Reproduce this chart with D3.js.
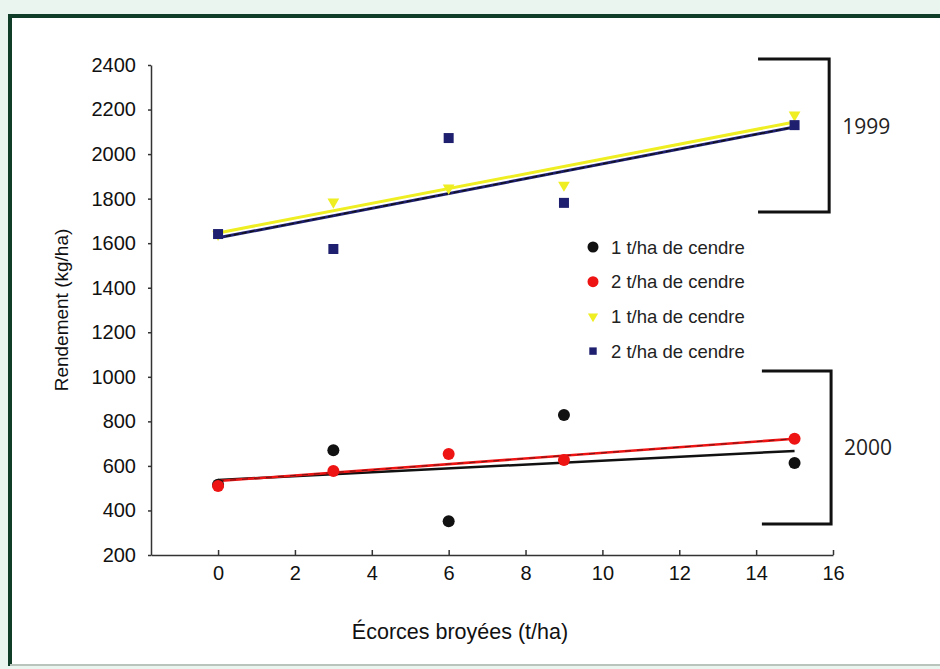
<!DOCTYPE html>
<html>
<head>
<meta charset="utf-8">
<script src="https://cdn.jsdelivr.net/npm/d3@7"></script>
<style>
    body { margin: 0; background: #e9f5ee; }
    svg { display: block; }
</style>
</head>
<body>
<svg id="vis"></svg>
<script>
const WIDTH = 940;
const HEIGHT = 669;

const NAVY = '#1e1f6e';
const YELLOW = '#eeee22';
const RED = '#ee1414';
const BLACK = '#111111';

// x values shared by all series (t/ha of crushed bark)
const doses = [0, 3, 6, 9, 15];

// 2000 series
const black_2000 = [515, 670, 352, 829, 613];
const red_2000 = [510, 577, 653, 627, 722];
// 1999 series
const yellow_1999 = [1640, 1785, 1848, 1861, 2176];
const navy_1999 = [1641, 1574, 2072, 1781, 2130];

// trend lines, [start at 0, end at 15]
const trend_black = [537, 667];
const trend_red = [532, 722];
const trend_yellow = [1646, 2144];
const trend_navy = [1624, 2122];

const x_ticks = [0, 2, 4, 6, 8, 10, 12, 14, 16];
const y_ticks = [200, 400, 600, 800, 1000, 1200, 1400, 1600, 1800, 2000, 2200, 2400];

const legend_labels = ['1 t/ha de cendre', '2 t/ha de cendre', '1 t/ha de cendre', '2 t/ha de cendre'];

// year brackets: [x start, x end, y top, y bottom] in data units
const bracket_1999 = [14.05, 15.9, 2427, 1740];
const bracket_2000 = [14.15, 15.95, 1026, 339];

var svg = d3.select('#vis').attr('width', WIDTH).attr('height', HEIGHT);

// frame
svg.append('rect').attr('x', 10).attr('y', 17).attr('width', 960).attr('height', 647).attr('fill', 'white');
svg.append('line').attr('x1', 10).attr('y1', 16).attr('x2', 940).attr('y2', 16)
    .attr('stroke', '#0f3d28').attr('stroke-width', 4);
svg.append('line').attr('x1', 10).attr('y1', 14).attr('x2', 10).attr('y2', 666)
    .attr('stroke', '#0f3d28').attr('stroke-width', 4);
svg.append('line').attr('x1', 10).attr('y1', 665).attr('x2', 940).attr('y2', 665)
    .attr('stroke', '#b9c4bd').attr('stroke-width', 2);

var x = d3.scaleLinear().domain([-1.745, 16]).range([151, 833]);
var y = d3.scaleLinear().domain([200, 2400]).range([555, 65]);

var font = "'Liberation Sans', Arial, sans-serif";

function styleAxis(g) {
    g.attr('font-size', null).attr('font-family', null);
    g.selectAll('path, line').attr('stroke', '#333').attr('stroke-width', 1.5);
    g.selectAll('text').attr('fill', '#111').attr('font-family', font).attr('font-size', 20);
}

var yAxis = svg.append('g').attr('transform', 'translate(151,0)')
    .call(d3.axisLeft(y).tickValues(y_ticks).tickFormat(d3.format('d'))
        .tickSizeInner(3).tickSizeOuter(0).tickPadding(12));
styleAxis(yAxis);

var xAxis = svg.append('g').attr('transform', 'translate(0,555)')
    .call(d3.axisBottom(x).tickValues(x_ticks).tickFormat(d3.format('d'))
        .tickSizeInner(-5).tickSizeOuter(0).tickPadding(11));
styleAxis(xAxis);

// axis titles
svg.append('text').attr('transform', 'translate(68,310) rotate(-90)')
    .attr('text-anchor', 'middle').attr('font-family', font).attr('font-size', 19)
    .attr('fill', '#111').text('Rendement (kg/ha)');
svg.append('text').attr('x', 460).attr('y', 639)
    .attr('text-anchor', 'middle').attr('font-family', font).attr('font-size', 21.5)
    .attr('fill', '#111').text('Écorces broyées (t/ha)');

function trend(vals, colour, width, dash) {
    var l = svg.append('line')
        .attr('x1', x(doses[0])).attr('y1', y(vals[0]))
        .attr('x2', x(doses[doses.length - 1])).attr('y2', y(vals[1]))
        .attr('stroke', colour).attr('stroke-width', width);
    if (dash) { l.attr('stroke-dasharray', dash); }
}

trend(trend_yellow, YELLOW, 3);
trend(trend_navy, NAVY, 3);
trend(trend_navy, BLACK, 1.2, '5,3');
trend(trend_black, BLACK, 2.5);
trend(trend_red, RED, 2.5);
trend(trend_red, '#551111', 0.8, '6,6');

var tri = d3.symbol().type(d3.symbolTriangle).size(60);
var sq = d3.symbol().type(d3.symbolSquare).size(100);

function drawPoints(vals, kind, colour) {
    var g = svg.append('g');
    vals.forEach(function (v, i) {
        if (kind == 'circle') {
            g.append('circle').attr('cx', x(doses[i])).attr('cy', y(v)).attr('r', 6).attr('fill', colour);
        } else if (kind == 'triangle') {
            g.append('path').attr('d', tri)
                .attr('transform', 'translate(' + x(doses[i]) + ',' + y(v) + ') rotate(180)').attr('fill', colour);
        } else {
            g.append('path').attr('d', sq)
                .attr('transform', 'translate(' + x(doses[i]) + ',' + y(v) + ')').attr('fill', colour);
        }
    });
}

drawPoints(black_2000, 'circle', BLACK);
drawPoints(red_2000, 'circle', RED);
drawPoints(yellow_1999, 'triangle', YELLOW);
drawPoints(navy_1999, 'square', NAVY);

// legend
var legend_kinds = [['circle', BLACK], ['circle', RED], ['triangle', YELLOW], ['square', NAVY]];
legend_labels.forEach(function (label, i) {
    var ly = 247 + i * 34.7;
    var kind = legend_kinds[i][0];
    var colour = legend_kinds[i][1];
    if (kind == 'circle') {
        svg.append('circle').attr('cx', 593).attr('cy', ly).attr('r', 5.5).attr('fill', colour);
    } else if (kind == 'triangle') {
        svg.append('path').attr('d', d3.symbol().type(d3.symbolTriangle).size(45))
            .attr('transform', 'translate(593,' + ly + ') rotate(180)').attr('fill', colour);
    } else {
        svg.append('path').attr('d', d3.symbol().type(d3.symbolSquare).size(55))
            .attr('transform', 'translate(593,' + ly + ')').attr('fill', colour);
    }
    svg.append('text').attr('x', 611).attr('y', ly + 6.5)
        .attr('font-family', font).attr('font-size', 18.5).attr('fill', '#222').text(label);
});

// year brackets
function bracket(b, label, dy) {
    var pts = [[b[0], b[2]], [b[1], b[2]], [b[1], b[3]], [b[0], b[3]]];
    svg.append('path')
        .attr('d', d3.line().x(function (d) { return x(d[0]); }).y(function (d) { return y(d[1]); })(pts))
        .attr('fill', 'none').attr('stroke', '#111').attr('stroke-width', 3);
    svg.append('text').attr('x', x(b[1]) + 13).attr('y', (y(b[2]) + y(b[3])) / 2 + dy)
        .attr('font-family', "'Open Sans', 'Noto Sans', sans-serif").attr('font-size', 21)
        .attr('fill', '#222').text(label);
}

bracket(bracket_1999, '1999', -1);
bracket(bracket_2000, '2000', 7);
</script>
</body>
</html>
